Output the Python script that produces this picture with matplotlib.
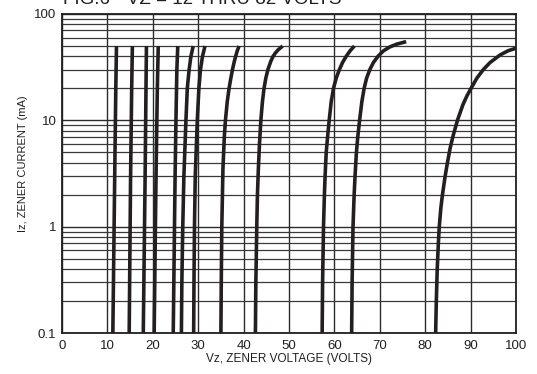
import numpy as np
import matplotlib
matplotlib.use("Agg")
import matplotlib.pyplot as plt
from matplotlib.ticker import FixedLocator, LogLocator, NullFormatter

plt.rcParams['font.family'] = ['Liberation Sans', 'DejaVu Sans']

### Data ###

# zener voltage (V) vs zener current (mA)
i_short = [0.1, 2.75, 20, 50]
v_12 = [11.2, 11.6, 11.85, 12.0]
v_15 = [14.8, 15.1, 15.35, 15.5]
v_18 = [17.9, 18.3, 18.5, 18.6]
v_20 = [20.3, 20.7, 21.0, 21.2]

i_24 = [0.1, 2.75, 10, 30, 50]
v_24 = [24.5, 24.9, 25.1, 25.3, 25.5]

i_27 = [0.1, 0.3, 1, 3, 10, 20, 30, 40, 50]
v_27 = [26.3, 26.4, 26.6, 26.85, 27.3, 27.6, 28.0, 28.4, 28.9]
v_30 = [29.0, 29.07, 29.18, 29.35, 29.8, 30.15, 30.5, 30.95, 31.5]

i_36 = [0.1, 0.3, 1, 3.5, 7, 10, 15, 20, 25, 30, 35, 40, 45, 50]
v_36 = [35.0, 35.08, 35.2, 35.45, 35.75, 36.0, 36.4, 36.8, 37.2, 37.55,
        37.9, 38.25, 38.6, 39.0]

i_43 = [0.1, 0.3, 1, 2, 3.5, 6, 10, 15, 20, 25, 30, 36, 40, 43, 46, 50]
v_43 = [42.6, 42.7, 42.9, 43.05, 43.25, 43.5, 43.8, 44.15, 44.5, 44.9,
        45.35, 46.0, 46.5, 47.0, 47.6, 48.6]

i_56 = [0.1, 0.3, 1, 2, 3, 5, 7, 10, 15, 20, 25, 30, 35, 40, 45, 50]
v_56 = [57.3, 57.4, 57.6, 57.8, 57.95, 58.2, 58.5, 58.85, 59.3, 59.8, 60.4,
        61.1, 61.8, 62.6, 63.45, 64.4]

i_62 = [0.1, 0.3, 1, 2, 3, 5, 7, 10, 15, 20, 25, 30, 35, 40, 45, 49, 52, 55]
v_62 = [63.8, 63.9, 64.1, 64.35, 64.55, 64.85, 65.15, 65.55, 66.05, 66.55,
        67.1, 67.8, 68.6, 69.6, 70.8, 72.2, 73.7, 75.8]

i_82 = [0.1, 0.2, 0.4, 0.7, 1, 1.5, 2, 3, 4, 5.5, 7.3, 10, 14, 17, 20, 25,
        30, 35, 41.2, 45, 47.7]
v_82 = [82.3, 82.45, 82.65, 82.9, 83.1, 83.45, 83.8, 84.4, 84.9, 85.5, 86.2,
        87.1, 88.3, 89.2, 90.1, 91.4, 92.8, 94.3, 96.5, 98.2, 100.0]

x_ticks = [0, 10, 20, 30, 40, 50, 60, 70, 80, 90, 100]
y_ticks = [0.1, 1, 10, 100]
y_tick_labels = ['0.1', '1', '10', '100']

curves = [
    (v_12, i_short), (v_15, i_short), (v_18, i_short), (v_20, i_short),
    (v_24, i_24), (v_27, i_27), (v_30, i_27), (v_36, i_36),
    (v_43, i_43), (v_56, i_56), (v_62, i_62), (v_82, i_82),
]

### Plot ###

fig = plt.figure(figsize=(5.37, 3.74), dpi=100)
ax = fig.add_axes([62 / 537, 1 - 333 / 374, 454 / 537, 319 / 374])

ax.set_yscale('log')
ax.set_xlim(0, 100)
ax.set_ylim(0.1, 100)

ax.xaxis.set_major_locator(FixedLocator(x_ticks))
ax.yaxis.set_major_locator(FixedLocator(y_ticks))
ax.yaxis.set_minor_locator(LogLocator(base=10, subs=np.arange(2, 10)))
ax.yaxis.set_minor_formatter(NullFormatter())
ax.set_yticklabels(y_tick_labels)

ax.grid(True, which='major', axis='both', color='#2b2b2b', lw=1.0)
ax.grid(True, which='minor', axis='y', color='#3a3a3a', lw=0.9)
ax.tick_params(which='both', length=0, labelsize=9.5, colors='#231f20')
ax.tick_params(axis='x', pad=5)
ax.tick_params(axis='y', pad=4)

for v, i in curves:
    ax.plot(v, i, color='#231f20', lw=2.6, solid_capstyle='butt',
            solid_joinstyle='round', zorder=3)

for s in ax.spines.values():
    s.set_color('#231f20')
    s.set_linewidth(1.3)

ax.set_xlabel('Vz, ZENER VOLTAGE (VOLTS)', fontsize=8.5, color='#231f20',
              labelpad=1)
ax.set_ylabel('Iz, ZENER CURRENT (mA)', fontsize=8, color='#231f20')
ax.yaxis.set_label_coords(-34 / 454, 0.53)

fig.text(63 / 537, 1 - 4.5 / 374, 'FIG.6 - VZ = 12 THRU 82 VOLTS',
         fontsize=13.5, va='baseline', ha='left', color='#231f20')

fig.savefig('out.png', dpi=100)
